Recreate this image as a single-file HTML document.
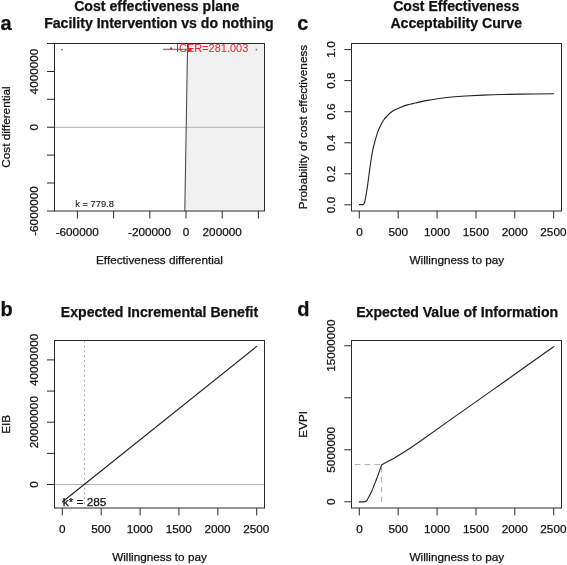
<!DOCTYPE html>
<html>
<head>
<meta charset="utf-8">
<title>Cost effectiveness figure</title>
<style>
html,body{margin:0;padding:0;background:#fff;}
body{width:567px;height:565px;overflow:hidden;}
svg{display:block;will-change:transform;}
text{font-family:"Liberation Sans",sans-serif;fill:#111;stroke:#111;stroke-width:0.25px;}
.t{font-size:14.1px;font-weight:bold;text-anchor:middle;}
.l{font-size:11.75px;text-anchor:middle;}
.p{font-size:20px;font-weight:bold;}
.ax{stroke:#2a2a2a;stroke-width:1;fill:none;}
.cv{stroke:#222;stroke-width:1.1;fill:none;stroke-linejoin:round;stroke-linecap:round;}
</style>
</head>
<body>
<svg width="567" height="565" viewBox="0 0 567 565">
<defs>
<pattern id="dots" width="2" height="2" patternUnits="userSpaceOnUse">
<rect width="2" height="2" fill="#f3f3f3"/>
<rect width="1" height="2" fill="#efefef"/>
</pattern>
</defs>
<rect width="567" height="565" fill="#fff"/>

<!-- ================= Panel a ================= -->
<g id="pa">
<text class="p" x="0.6" y="29.5">a</text>
<text class="t" x="156.8" y="11">Cost effectiveness plane</text>
<text class="t" x="158.9" y="28">Facility Intervention vs do nothing</text>
<polygon points="187.6,43.5 264.5,43.5 264.5,211 184.8,211" fill="url(#dots)"/>
<line x1="54.5" y1="127.3" x2="264.5" y2="127.3" stroke="#b0b0b0" stroke-width="1"/>
<line x1="187.6" y1="43.5" x2="184.8" y2="211" stroke="#484848" stroke-width="1.05"/>
<rect class="ax" x="54.5" y="43.5" width="210" height="167.5"/>
<!-- y ticks -->
<path class="ax" d="M47 43.5H54.5M47 71.5H54.5M47 99.3H54.5M47 127.25H54.5M47 155.1H54.5M47 183H54.5M47 211H54.5"/>
<!-- x ticks -->
<path class="ax" d="M77.4 211V218.5M113.6 211V218.5M149.8 211V218.5M186 211V218.5M222.2 211V218.5M258.4 211V218.5"/>
<text class="l" x="77.2" y="236">-600000</text>
<text class="l" x="149.6" y="236">-200000</text>
<text class="l" x="186" y="236">0</text>
<text class="l" x="222.2" y="236">200000</text>
<text class="l" transform="translate(37.5,211) rotate(-90)">-6000000</text>
<text class="l" transform="translate(37.5,127.2) rotate(-90)">0</text>
<text class="l" transform="translate(37.5,71.5) rotate(-90)">4000000</text>
<text class="l" x="159.5" y="264">Effectiveness differential</text>
<text class="l" transform="translate(9.8,127) rotate(-90)">Cost differential</text>
<text x="75.3" y="207" style="font-size:9.3px;stroke-width:0.1px">k = 779.8</text>
<!-- point cloud -->
<line x1="163" y1="49.4" x2="188" y2="49.4" stroke="#808080" stroke-width="1.4"/>
<circle cx="62" cy="49.6" r="0.9" fill="#777"/>
<circle cx="256.4" cy="49.6" r="0.9" fill="#777"/>
<circle cx="171.2" cy="48.4" r="1.1" fill="#ee1c24"/>
<rect x="188.3" y="48.2" width="3.2" height="3.2" fill="#ee1c24"/>
<text x="175.9" y="52" style="font-size:11px;fill:#ee1c24;stroke:none">ICER=281.003</text>
</g>

<!-- ================= Panel c ================= -->
<g id="pc">
<text class="p" x="297.2" y="29.5">c</text>
<text class="t" x="456.2" y="11">Cost Effectiveness</text>
<text class="t" x="456.2" y="28">Acceptability Curve</text>
<rect class="ax" x="351.5" y="43.5" width="210" height="167.5"/>
<path class="ax" d="M344.3 49.6H351.5M344.3 80.6H351.5M344.3 111.7H351.5M344.3 142.8H351.5M344.3 173.8H351.5M344.3 204.8H351.5"/>
<path class="ax" d="M359.3 211V218.5M398.2 211V218.5M437.1 211V218.5M476 211V218.5M514.8 211V218.5M553.7 211V218.5"/>
<text class="l" x="359.5" y="236">0</text>
<text class="l" x="398.2" y="236">500</text>
<text class="l" x="437" y="236">1000</text>
<text class="l" x="475.9" y="236">1500</text>
<text class="l" x="514.7" y="236">2000</text>
<text class="l" x="553.4" y="236">2500</text>
<text class="l" transform="translate(334.8,49.5) rotate(-90)">1.0</text>
<text class="l" transform="translate(334.8,80.6) rotate(-90)">0.8</text>
<text class="l" transform="translate(334.8,111.7) rotate(-90)">0.6</text>
<text class="l" transform="translate(334.8,142.8) rotate(-90)">0.4</text>
<text class="l" transform="translate(334.8,173.9) rotate(-90)">0.2</text>
<text class="l" transform="translate(334.8,205) rotate(-90)">0.0</text>
<text class="l" x="456.8" y="264">Willingness to pay</text>
<text class="l" transform="translate(306.7,127) rotate(-90)">Probability of cost effectiveness</text>
<path class="cv" id="ceac" d="M359.3 204.6L363 204.6C363.17 204.45 363.70 204.22 364.00 203.70C364.30 203.18 364.48 202.82 364.80 201.50C365.12 200.18 365.53 197.83 365.90 195.80C366.27 193.77 366.65 191.58 367.00 189.30C367.35 187.02 367.67 184.53 368.00 182.10C368.33 179.67 368.67 177.17 369.00 174.70C369.33 172.23 369.65 169.78 370.00 167.30C370.35 164.82 370.70 162.35 371.10 159.80C371.50 157.25 371.88 154.63 372.40 152.00C372.92 149.37 373.52 146.70 374.20 144.00C374.88 141.30 375.77 138.17 376.50 135.80C377.23 133.43 377.80 131.77 378.60 129.80C379.40 127.83 380.42 125.68 381.30 124.00C382.18 122.32 382.93 121.03 383.90 119.70C384.87 118.37 385.95 117.20 387.10 116.00C388.25 114.80 389.38 113.57 390.80 112.50C392.22 111.43 393.92 110.48 395.60 109.60C397.28 108.72 398.95 107.98 400.90 107.20C402.85 106.42 405.35 105.50 407.30 104.90C409.25 104.30 410.82 104.02 412.60 103.60C414.38 103.18 415.78 102.90 418.00 102.40C420.22 101.90 422.65 101.22 425.90 100.60C429.15 99.98 433.22 99.30 437.50 98.70C441.78 98.10 446.95 97.45 451.60 97.00C456.25 96.55 458.50 96.37 465.40 96.00C472.30 95.63 483.77 95.12 493.00 94.80C502.23 94.48 510.68 94.27 520.80 94.10C530.92 93.93 548.22 93.85 553.70 93.80"/>
</g>

<!-- ================= Panel b ================= -->
<g id="pb">
<text class="p" x="0.6" y="315.6">b</text>
<text class="t" x="159.5" y="317">Expected Incremental Benefit</text>
<line x1="54.5" y1="484.6" x2="264.5" y2="484.6" stroke="#b0b0b0" stroke-width="1"/>
<line x1="84.5" y1="340.5" x2="84.5" y2="508" stroke="#adadad" stroke-width="1" stroke-dasharray="2 2.9"/>
<rect class="ax" x="54.5" y="340.5" width="210" height="167.5"/>
<path class="ax" d="M47 359.9H54.5M47 391.1H54.5M47 422.2H54.5M47 453.4H54.5M47 484.5H54.5"/>
<path class="ax" d="M62.3 508V515.4M101.2 508V515.4M140.1 508V515.4M178.9 508V515.4M217.8 508V515.4M256.7 508V515.4"/>
<text class="l" x="62.3" y="533">0</text>
<text class="l" x="101" y="533">500</text>
<text class="l" x="139.8" y="533">1000</text>
<text class="l" x="178.7" y="533">1500</text>
<text class="l" x="217.5" y="533">2000</text>
<text class="l" x="256.2" y="533">2500</text>
<text class="l" transform="translate(37.5,484.5) rotate(-90)">0</text>
<text class="l" transform="translate(37.5,422.2) rotate(-90)">20000000</text>
<text class="l" transform="translate(37.5,359.9) rotate(-90)">40000000</text>
<text class="l" x="159.5" y="561">Willingness to pay</text>
<text class="l" transform="translate(9.8,424.3) rotate(-90)">EIB</text>
<path class="cv" d="M62.3 502L256.7 346.4"/>
<text x="62.8" y="506" style="font-size:11.75px">k* = 285</text>
</g>

<!-- ================= Panel d ================= -->
<g id="pd">
<text class="p" x="297.2" y="315.6">d</text>
<text class="t" x="457.2" y="317">Expected Value of Information</text>
<path d="M351.5 464.6H381.6V502.4" stroke="#adadad" stroke-width="1" fill="none" stroke-dasharray="5.4 4.4" stroke-dashoffset="-3.4"/>
<rect class="ax" x="351.5" y="340.5" width="210" height="167.5"/>
<path class="ax" d="M344.3 345.7H351.5M344.3 397.8H351.5M344.3 449.8H351.5M344.3 501.8H351.5"/>
<path class="ax" d="M359.3 508V515.4M398.2 508V515.4M437.1 508V515.4M476 508V515.4M514.8 508V515.4M553.7 508V515.4"/>
<text class="l" x="359.6" y="533">0</text>
<text class="l" x="398.3" y="533">500</text>
<text class="l" x="437.1" y="533">1000</text>
<text class="l" x="476" y="533">1500</text>
<text class="l" x="514.7" y="533">2000</text>
<text class="l" x="553.4" y="533">2500</text>
<text class="l" transform="translate(334.8,501.8) rotate(-90)">0</text>
<text class="l" transform="translate(334.8,449.8) rotate(-90)">5000000</text>
<text class="l" transform="translate(334.8,345.7) rotate(-90)">15000000</text>
<text class="l" x="456.8" y="561">Willingness to pay</text>
<text class="l" transform="translate(306.7,424.3) rotate(-90)">EVPI</text>
<path class="cv" id="evpi" d="M359.3 501.9L364.1 501.9C364.33 501.82 365.05 501.65 365.50 501.40C365.95 501.15 366.18 501.25 366.80 500.40C367.42 499.55 368.38 497.82 369.20 496.30C370.02 494.78 370.88 493.15 371.70 491.30C372.52 489.45 373.23 487.38 374.10 485.20C374.97 483.02 376.07 480.38 376.90 478.20C377.73 476.02 378.45 473.92 379.10 472.10C379.75 470.28 380.37 468.52 380.80 467.30C381.23 466.08 381.55 465.22 381.70 464.80C382.80 464.21 385.65 462.72 388.30 461.25C390.95 459.78 393.98 458.18 397.60 456.00C401.22 453.82 405.58 451.12 410.00 448.20C414.42 445.28 418.10 442.72 424.10 438.50C430.10 434.28 436.85 429.38 446.00 422.90C455.15 416.42 468.00 407.37 479.00 399.60C490.00 391.83 501.00 384.10 512.00 376.30C523.00 368.50 538.03 357.75 545.00 352.80C551.97 347.85 552.33 347.63 553.80 346.60"/>
</g>
</svg>
</body>
</html>
